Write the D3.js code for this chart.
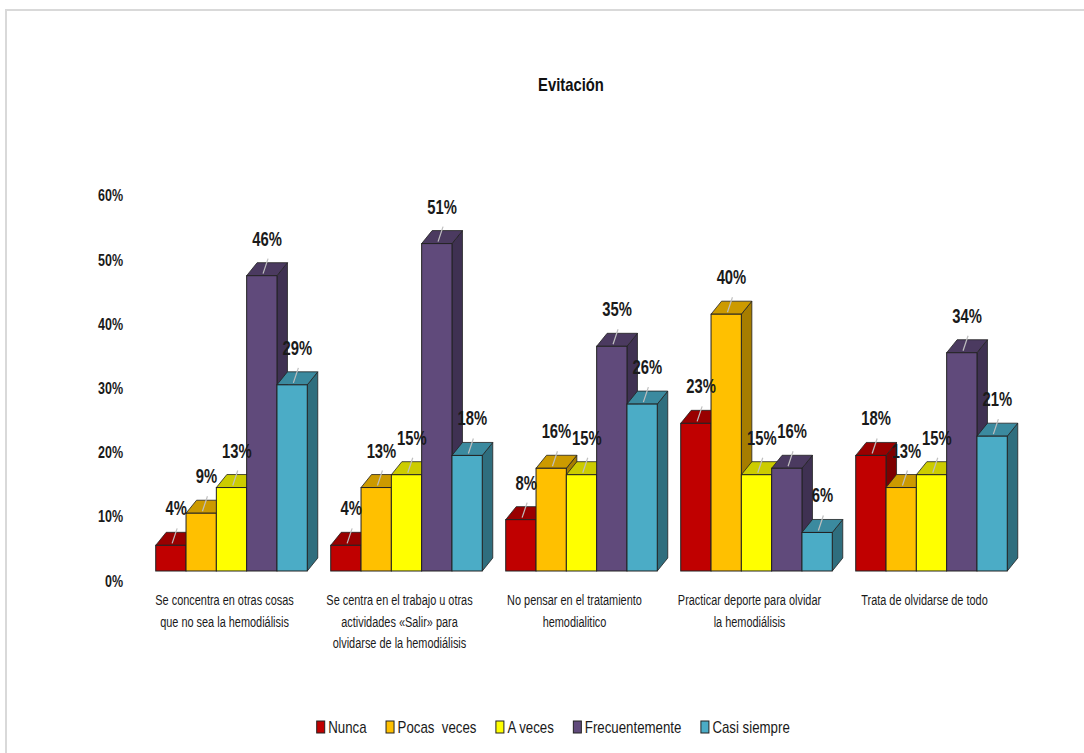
<!DOCTYPE html>
<html>
<head>
<meta charset="utf-8">
<script src="https://cdn.jsdelivr.net/npm/d3@7"></script>
<style>
  html, body { margin: 0; padding: 0; background: #fff; }
  svg { display: block; }
</style>
</head>
<body>
<svg id="chart" width="1084" height="753"></svg>
<script>
// ---- data ----
const categories = [
  ["Se concentra en otras cosas", "que no sea la hemodiálisis"],
  ["Se centra en el trabajo u otras", "actividades «Salir» para", "olvidarse de la hemodiálisis"],
  ["No pensar en el tratamiento", "hemodialitico"],
  ["Practicar deporte para olvidar", "la hemodiálisis"],
  ["Trata de olvidarse de todo"]
];
const seriesNames = ["Nunca", "Pocas  veces", "A veces", "Frecuentemente", "Casi siempre"];
const nunca          = [0.04, 0.04, 0.08, 0.23, 0.18];
const pocasVeces     = [0.09, 0.13, 0.16, 0.40, 0.13];
const aVeces         = [0.13, 0.15, 0.15, 0.15, 0.15];
const frecuentemente = [0.46, 0.51, 0.35, 0.16, 0.34];
const casiSiempre    = [0.29, 0.18, 0.26, 0.06, 0.21];
const yTicks = [0, 0.1, 0.2, 0.3, 0.4, 0.5, 0.6];
const title = "Evitación";

const seriesValues = [nunca, pocasVeces, aVeces, frecuentemente, casiSiempre];

// ---- styles ----
const frontColors = ["#c00000", "#ffc000", "#ffff00", "#604a7b", "#4bacc6"];
const topColors   = ["#990000", "#cc9a00", "#cccc00", "#4b3a60", "#3b8a9f"];
const sideColors  = ["#7d0000", "#a67d00", "#a6a600", "#3f3152", "#2f6e7e"];
const narrow = "'Liberation Sans Narrow', 'Arial Narrow', 'Liberation Sans', Arial, sans-serif";

// condense text horizontally (narrow face not installed)
function condense(node, f) {
  const len = node.getComputedTextLength();
  if (len > 0) {
    d3.select(node).attr("textLength", len * f).attr("lengthAdjust", "spacingAndGlyphs");
  }
  return len * f;
}

const svg = d3.select("#chart");
svg.append("rect").attr("x", 0).attr("y", 0).attr("width", 1084).attr("height", 753).attr("fill", "#fff");
svg.append("rect").attr("x", 6).attr("y", 10).attr("width", 1200).attr("height", 900)
  .attr("fill", "none").attr("stroke", "#d9d9d9").attr("stroke-width", 2);

const catIdx = d3.range(categories.length);
const x0 = d3.scaleBand().domain(catIdx).range([144, 1019]).paddingInner(0.134).paddingOuter(0.067);
const x1 = d3.scaleBand().domain(d3.range(seriesNames.length)).range([0, x0.bandwidth()]).padding(0);
const y = d3.scaleLinear().domain([0, 0.6]).range([571, 571 - 0.6 * 642]);
const dx = 10.5, dy = 13;

// title
const tt = svg.append("text").attr("x", 571).attr("y", 91).attr("text-anchor", "middle")
  .attr("font-family", narrow).attr("font-weight", "bold").attr("font-size", 18.5)
  .attr("fill", "#111").text(title);
condense(tt.node(), 0.8);

// y axis labels
const yAxis = d3.axisLeft(y).tickValues(yTicks).tickFormat(d3.format(".0%")).tickSize(0).tickPadding(0);
const gy = svg.append("g").attr("transform", "translate(123,10)").call(yAxis);
gy.select(".domain").remove();
gy.selectAll("text").attr("font-family", narrow).attr("font-weight", "bold")
  .attr("font-size", 16).attr("fill", "#1a1a1a")
  .each(function() { condense(this, 0.78); });

// bars
const bars = [];
catIdx.forEach(ci => {
  seriesValues.forEach((vals, si) => {
    bars.push({ ci, si, v: vals[ci] });
  });
});

const gBars = svg.append("g");
bars.forEach(b => {
  const fx = x0(b.ci) + x1(b.si);
  const w = x1.bandwidth();
  const yt = y(b.v), yb = y(0);
  const g = gBars.append("g");
  g.append("path")
    .attr("d", `M${fx + w},${yb} L${fx + w + dx},${yb - dy} L${fx + w + dx},${yt - dy} L${fx + w},${yt} Z`)
    .attr("fill", sideColors[b.si]).attr("stroke", "#222").attr("stroke-width", 0.8).attr("stroke-linejoin", "round");
  g.append("path")
    .attr("d", `M${fx},${yt} L${fx + dx},${yt - dy} L${fx + w + dx},${yt - dy} L${fx + w},${yt} Z`)
    .attr("fill", topColors[b.si]).attr("stroke", "#222").attr("stroke-width", 0.8).attr("stroke-linejoin", "round");
  g.append("rect").attr("x", fx).attr("y", yt).attr("width", w).attr("height", yb - yt)
    .attr("fill", frontColors[b.si]).attr("stroke", "#222").attr("stroke-width", 1);
});

// data labels with leader lines
const gLab = svg.append("g");
bars.forEach(b => {
  const fx = x0(b.ci) + x1(b.si);
  const w = x1.bandwidth();
  const yt = y(b.v);
  const tcx = fx + w / 2 + dx / 2;
  gLab.append("line")
    .attr("x1", tcx + 1).attr("y1", yt - dy - 4)
    .attr("x2", tcx - 4).attr("y2", yt - 2)
    .attr("stroke", "#bfbfbf").attr("stroke-width", 1.2);
  const t = gLab.append("text").attr("x", tcx).attr("y", yt - dy - 17).attr("text-anchor", "middle")
    .attr("font-family", narrow).attr("font-weight", "bold").attr("font-size", 20)
    .attr("fill", "#1a1a1a").text(d3.format(".0%")(b.v));
  condense(t.node(), 0.74);
});

// category labels
const gCat = svg.append("g");
catIdx.forEach(ci => {
  const cx = x0(ci) + x0.bandwidth() / 2 - 7;
  const t = gCat.append("text").attr("text-anchor", "middle")
    .attr("font-family", narrow).attr("font-size", 14).attr("fill", "#1a1a1a");
  categories[ci].forEach((line, li) => {
    const ts = t.append("tspan").attr("x", cx).attr("y", 605 + li * 21.5).text(line);
    condense(ts.node(), 0.78);
  });
});

// legend
const gLeg = svg.append("g");
let lx = 0;
seriesNames.forEach((name, si) => {
  const g = gLeg.append("g").attr("transform", `translate(${lx},0)`);
  g.append("rect").attr("x", 0.5).attr("y", -12).attr("width", 8).attr("height", 12)
    .attr("fill", frontColors[si]).attr("stroke", "#222").attr("stroke-width", 1);
  const t = g.append("text").attr("x", 12).attr("y", 0)
    .attr("font-family", narrow).attr("font-size", 17).attr("fill", "#1a1a1a")
    .style("white-space", "pre").text(name);
  const wv = condense(t.node(), 0.78);
  lx += 12 + wv + 19;
});
const legW = lx - 19;
gLeg.attr("transform", `translate(${553 - legW / 2},733)`);
</script>
</body>
</html>
